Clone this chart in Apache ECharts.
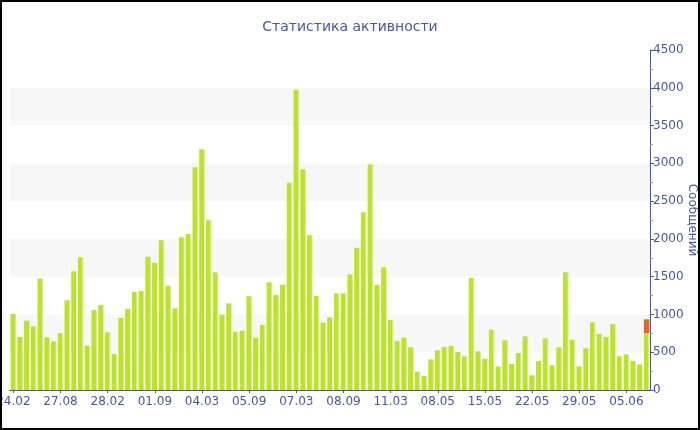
<!DOCTYPE html>
<html>
<head>
<meta charset="utf-8">
<script src="https://cdn.jsdelivr.net/npm/echarts@6/dist/echarts.min.js"></script>
<style>
html,body{margin:0;padding:0;background:#fff;}
#wrap{position:relative;width:700px;height:430px;}
#c{position:absolute;left:0;top:0;width:700px;height:430px;}
#frame{position:absolute;left:0;top:0;width:700px;height:430px;box-sizing:border-box;border:2px solid #000;pointer-events:none;}
</style>
</head>
<body>
<div id="wrap"><div id="c"></div><div id="frame"></div></div>
<script>
// Tick labels shown every 7th category
const tickLabels = ['24.02','27.08','28.02','01.09','04.03','05.09','07.03','08.09','11.03','08.05','15.05','22.05','29.05','05.06'];

// Main series (green)
const messages = [
  1006, 701, 918, 843, 1474, 697, 644, 754, 1187, 1571,
  1756, 587, 1059, 1125, 763, 476, 953, 1072, 1297, 1310,
  1765, 1681, 1981, 1381, 1081, 2021, 2065, 2947, 3185, 2246,
  1557, 997, 1147, 772, 785, 1240, 693, 860, 1425, 1257,
  1394, 2744, 3975, 2921, 2047, 1244, 891, 962, 1279, 1279,
  1531, 1884, 2352, 2983, 1390, 1624, 927, 649, 693, 565,
  243, 185, 406, 525, 569, 582, 503, 446, 1482, 512,
  410, 799, 313, 657, 344, 490, 710, 194, 384, 684,
  326, 565, 1557, 666, 313, 551, 896, 741, 701, 874,
  446, 472, 384, 340, 754
];

// Extra stacked series (red) - only the last bar
const extra = new Array(94).fill(null).concat([181]);

const categories = messages.map((_, i) => (i % 7 === 0 ? tickLabels[i / 7] : '·' + i));

const blue = '#4557a0';
const chart = echarts.init(document.getElementById('c'), null, {renderer: 'canvas'});
chart.setOption({
  animation: false,
  backgroundColor: '#fff',
  title: {
    text: 'Статистика активности',
    left: 'center',
    top: 15,
    textStyle: {fontFamily: 'DejaVu Sans', fontSize: 14, fontWeight: 'normal', color: blue}
  },
  grid: {left: 10, right: 50, top: 50, bottom: 40, containLabel: false, outerBoundsMode: 'none'},
  xAxis: {
    type: 'category',
    data: categories,
    boundaryGap: true,
    axisLine: {lineStyle: {color: blue, width: 1}},
    axisTick: {show: true, interval: 6, alignWithLabel: true, length: 3, lineStyle: {color: blue}},
    axisLabel: {
      interval: 6, color: blue, fontFamily: 'DejaVu Sans', fontSize: 12, margin: 6,
      hideOverlap: false,
      formatter: v => (v.charAt(0) === '·' ? '' : v)
    },
    splitLine: {show: false}
  },
  yAxis: {
    type: 'value',
    position: 'right',
    min: 0, max: 4500, interval: 500,
    name: 'Сообщений',
    nameLocation: 'middle',
    nameRotate: -90,
    nameGap: 36,
    nameMoveOverlap: false,
    nameTextStyle: {fontFamily: 'DejaVu Sans', fontSize: 12, color: blue},
    axisLine: {show: true, lineStyle: {color: blue, width: 1}},
    axisTick: {show: true, length: 4, lineStyle: {color: blue}},
    minorTick: {show: true, splitNumber: 2, length: 3, lineStyle: {color: '#999'}},
    axisLabel: {color: blue, fontFamily: 'DejaVu Sans', fontSize: 12, margin: 3, formatter: v => String(v)},
    splitLine: {show: false},
    splitArea: {show: true, areaStyle: {color: ['#ffffff', '#f7f7f7']}}
  },
  series: [
    {
      type: 'bar',
      stack: 'a',
      data: messages,
      barCategoryGap: '18%',
      itemStyle: {
        color: new echarts.graphic.LinearGradient(0, 0, 1, 0, [
          {offset: 0, color: '#bde22c'},
          {offset: 0.8, color: '#bde22c'},
          {offset: 0.82, color: '#d5ee84'},
          {offset: 1, color: '#d5ee84'}
        ])
      }
    },
    {
      type: 'bar',
      stack: 'a',
      data: extra,
      itemStyle: {color: '#e2662f'}
    }
  ]
});
</script>
</body>
</html>
